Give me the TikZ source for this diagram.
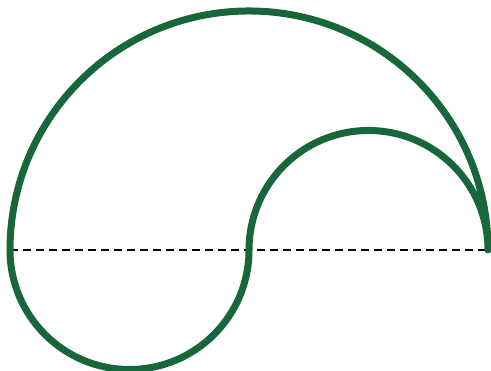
\documentclass[tikz,border=0pt]{standalone}
\definecolor{ringgreen}{HTML}{17673A}
\begin{document}
\begin{tikzpicture}[x=0.01cm, y=0.01cm,
    outline/.style={draw=ringgreen, line width=0.07cm, line join=round},
    base/.style={draw=black, line width=0.02cm, dash pattern=on 0.08cm off 0.05cm}]
  \useasboundingbox (0,0) rectangle (491,371);
  \coordinate (west) at (10,121);  \coordinate (east) at (488,121);
  \draw[base] (west) -- (east);
  \draw[outline] (west) arc[start angle=180, end angle=0, radius=239]
                        arc[start angle=0, end angle=180, radius=119.5]
                        arc[start angle=0, end angle=-180, radius=119.5] -- cycle;
\end{tikzpicture}
\end{document}
